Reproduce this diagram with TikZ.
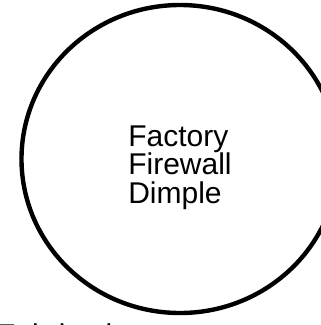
\documentclass[tikz,border=0pt]{standalone}
\usepackage{fontspec}
\setmainfont{Liberation Sans}
\usetikzlibrary{shapes.geometric}

\begin{document}
\begin{tikzpicture}[x=1pt,y=1pt,every node/.style={font=\fontsize{30}{28.5}\selectfont}]
        \useasboundingbox (0,0) rectangle (321,-325);
        \node[ellipse, draw, line width=4.4pt, inner sep=0pt,
              minimum width=317pt, minimum height=308pt] (rim) at (180,-159) {};
        \node[align=left] (name) at ([xshift=0pt,yshift=-8.5pt]rim.center)
              {Factory\\Firewall\\Dimple};
        \node[anchor=base west, inner sep=0pt] (cut) at (-3,-345) {Fabrication};
\end{tikzpicture}
\end{document}
